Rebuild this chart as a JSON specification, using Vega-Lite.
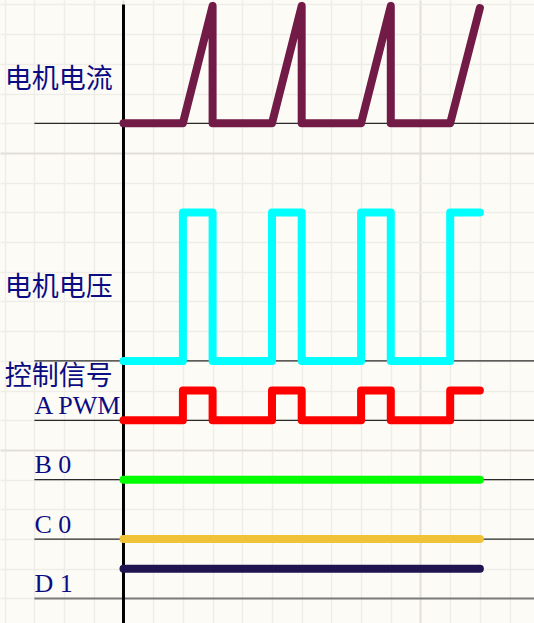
{
  "$schema": "https://vega.github.io/schema/vega-lite/v6.json",
  "width": 534,
  "height": 623,
  "autosize": {"type": "none"},
  "padding": 0,
  "background": "#fdfbf6",
  "config": {"view": {"stroke": null}},
  "resolve": {"scale": {"color": "independent", "strokeWidth": "independent"}},
  "datasets": {
    "waves": [
      {"signal": "current", "i": 0, "t": 0, "v": 3},
      {"signal": "current", "i": 1, "t": 2, "v": 3},
      {"signal": "current", "i": 2, "t": 3, "v": -0.95},
      {"signal": "current", "i": 3, "t": 3, "v": 3},
      {"signal": "current", "i": 4, "t": 5, "v": 3},
      {"signal": "current", "i": 5, "t": 6, "v": -0.95},
      {"signal": "current", "i": 6, "t": 6, "v": 3},
      {"signal": "current", "i": 7, "t": 8, "v": 3},
      {"signal": "current", "i": 8, "t": 9, "v": -0.95},
      {"signal": "current", "i": 9, "t": 9, "v": 3},
      {"signal": "current", "i": 10, "t": 11, "v": 3},
      {"signal": "current", "i": 11, "t": 12, "v": -0.88},
      {"signal": "voltage", "i": 0, "t": 0, "v": 11},
      {"signal": "voltage", "i": 1, "t": 2, "v": 11},
      {"signal": "voltage", "i": 2, "t": 2, "v": 6},
      {"signal": "voltage", "i": 3, "t": 3, "v": 6},
      {"signal": "voltage", "i": 4, "t": 3, "v": 11},
      {"signal": "voltage", "i": 5, "t": 5, "v": 11},
      {"signal": "voltage", "i": 6, "t": 5, "v": 6},
      {"signal": "voltage", "i": 7, "t": 6, "v": 6},
      {"signal": "voltage", "i": 8, "t": 6, "v": 11},
      {"signal": "voltage", "i": 9, "t": 8, "v": 11},
      {"signal": "voltage", "i": 10, "t": 8, "v": 6},
      {"signal": "voltage", "i": 11, "t": 9, "v": 6},
      {"signal": "voltage", "i": 12, "t": 9, "v": 11},
      {"signal": "voltage", "i": 13, "t": 11, "v": 11},
      {"signal": "voltage", "i": 14, "t": 11, "v": 6},
      {"signal": "voltage", "i": 15, "t": 12, "v": 6},
      {"signal": "A", "i": 0, "t": 0, "v": 13},
      {"signal": "A", "i": 1, "t": 2, "v": 13},
      {"signal": "A", "i": 2, "t": 2, "v": 12},
      {"signal": "A", "i": 3, "t": 3, "v": 12},
      {"signal": "A", "i": 4, "t": 3, "v": 13},
      {"signal": "A", "i": 5, "t": 5, "v": 13},
      {"signal": "A", "i": 6, "t": 5, "v": 12},
      {"signal": "A", "i": 7, "t": 6, "v": 12},
      {"signal": "A", "i": 8, "t": 6, "v": 13},
      {"signal": "A", "i": 9, "t": 8, "v": 13},
      {"signal": "A", "i": 10, "t": 8, "v": 12},
      {"signal": "A", "i": 11, "t": 9, "v": 12},
      {"signal": "A", "i": 12, "t": 9, "v": 13},
      {"signal": "A", "i": 13, "t": 11, "v": 13},
      {"signal": "A", "i": 14, "t": 11, "v": 12},
      {"signal": "A", "i": 15, "t": 12, "v": 12},
      {"signal": "B", "i": 0, "t": 0, "v": 15},
      {"signal": "B", "i": 1, "t": 12, "v": 15},
      {"signal": "C", "i": 0, "t": 0, "v": 17},
      {"signal": "C", "i": 1, "t": 12, "v": 17},
      {"signal": "D", "i": 0, "t": 0, "v": 18},
      {"signal": "D", "i": 1, "t": 12, "v": 18}
    ],
    "baselines": [
      {"row": 3, "from": -3, "to": 13.822, "kind": "thin"},
      {"row": 11, "from": -3, "to": 13.822, "kind": "thin"},
      {"row": 13, "from": -3, "to": 13.822, "kind": "thin"},
      {"row": 15, "from": -3, "to": 13.822, "kind": "thin"},
      {"row": 17, "from": -3, "to": 13.822, "kind": "thin"},
      {"row": 19, "from": -3, "to": 13.822, "kind": "bottom"}
    ],
    "labels": [
      {"text": "电机电流", "t": -4, "v": 1.53, "font": "cjk"},
      {"text": "电机电压", "t": -4, "v": 8.55, "font": "cjk"},
      {"text": "控制信号", "t": -4, "v": 11.53, "font": "cjk"},
      {"text": "A PWM", "t": -3, "v": 12.79, "font": "serif"},
      {"text": "B 0", "t": -3, "v": 14.79, "font": "serif"},
      {"text": "C 0", "t": -3, "v": 16.79, "font": "serif"},
      {"text": "D 1", "t": -3, "v": 18.79, "font": "serif"}
    ]
  },
  "encoding": {
    "x": {
      "type": "quantitative",
      "scale": {"domain": [-4.158, 13.822], "nice": false, "zero": false},
      "axis": {
        "values": [-4, -3, -2, -1, 0, 1, 2, 3, 4, 5, 6, 7, 8, 9, 10, 11, 12, 13],
        "grid": true,
        "gridColor": {"condition": {"test": "datum.value === 0 || datum.value === 10", "value": "#e2dfd9"}, "value": "#efede7"},
        "gridWidth": {"condition": {"test": "datum.value === 0 || datum.value === 10", "value": 2}, "value": 1.5},
        "labels": false,
        "ticks": false,
        "domain": false,
        "title": null
      }
    },
    "y": {
      "type": "quantitative",
      "scale": {"domain": [-1.1515, 19.825], "nice": false, "zero": false, "reverse": true},
      "axis": {
        "values": [-1, 0, 1, 2, 3, 4, 5, 6, 7, 8, 9, 10, 11, 12, 13, 14, 15, 16, 17, 18, 19],
        "grid": true,
        "gridColor": {"condition": {"test": "datum.value === 4 || datum.value === 14", "value": "#e2dfd9"}, "value": "#efede7"},
        "gridWidth": {"condition": {"test": "datum.value === 4 || datum.value === 14", "value": 2}, "value": 1.5},
        "labels": false,
        "ticks": false,
        "domain": false,
        "title": null
      }
    }
  },
  "layer": [
    {
      "data": {"name": "baselines"},
      "mark": {"type": "rule"},
      "encoding": {
        "x": {"field": "from", "type": "quantitative"},
        "x2": {"field": "to"},
        "y": {"field": "row", "type": "quantitative"},
        "color": {
          "field": "kind",
          "type": "nominal",
          "scale": {"domain": ["thin", "bottom"], "range": ["#2a2a2a", "#7a7a7a"]},
          "legend": null
        },
        "strokeWidth": {
          "field": "kind",
          "type": "nominal",
          "scale": {"domain": ["thin", "bottom"], "range": [1.2, 2]},
          "legend": null
        }
      }
    },
    {
      "data": {"values": [{"t": 0, "top": -1, "bottom": 19.825}]},
      "mark": {"type": "rule", "color": "#000000", "strokeWidth": 3},
      "encoding": {
        "x": {"field": "t", "type": "quantitative"},
        "y": {"field": "top", "type": "quantitative"},
        "y2": {"field": "bottom"}
      }
    },
    {
      "data": {"name": "waves"},
      "mark": {"type": "line", "strokeWidth": 8, "strokeCap": "round", "strokeJoin": "round"},
      "encoding": {
        "x": {"field": "t", "type": "quantitative"},
        "y": {"field": "v", "type": "quantitative"},
        "order": {"field": "i", "type": "quantitative"},
        "color": {
          "field": "signal",
          "type": "nominal",
          "scale": {
            "domain": ["current", "voltage", "A", "B", "C", "D"],
            "range": ["#721b47", "#00ffff", "#ff0000", "#00ff00", "#f0c238", "#201450"]
          },
          "legend": null
        }
      }
    },
    {
      "data": {"name": "labels"},
      "transform": [{"filter": "datum.font === 'cjk'"}],
      "mark": {"type": "text", "align": "left", "baseline": "middle", "font": "Noto Sans CJK SC", "fontSize": 27, "color": "#0c0c82"},
      "encoding": {
        "x": {"field": "t", "type": "quantitative"},
        "y": {"field": "v", "type": "quantitative"},
        "text": {"field": "text"}
      }
    },
    {
      "data": {"name": "labels"},
      "transform": [{"filter": "datum.font === 'serif'"}],
      "mark": {"type": "text", "align": "left", "baseline": "alphabetic", "font": "Liberation Serif", "fontSize": 26, "color": "#0c0c82"},
      "encoding": {
        "x": {"field": "t", "type": "quantitative"},
        "y": {"field": "v", "type": "quantitative"},
        "text": {"field": "text"}
      }
    }
  ]
}
